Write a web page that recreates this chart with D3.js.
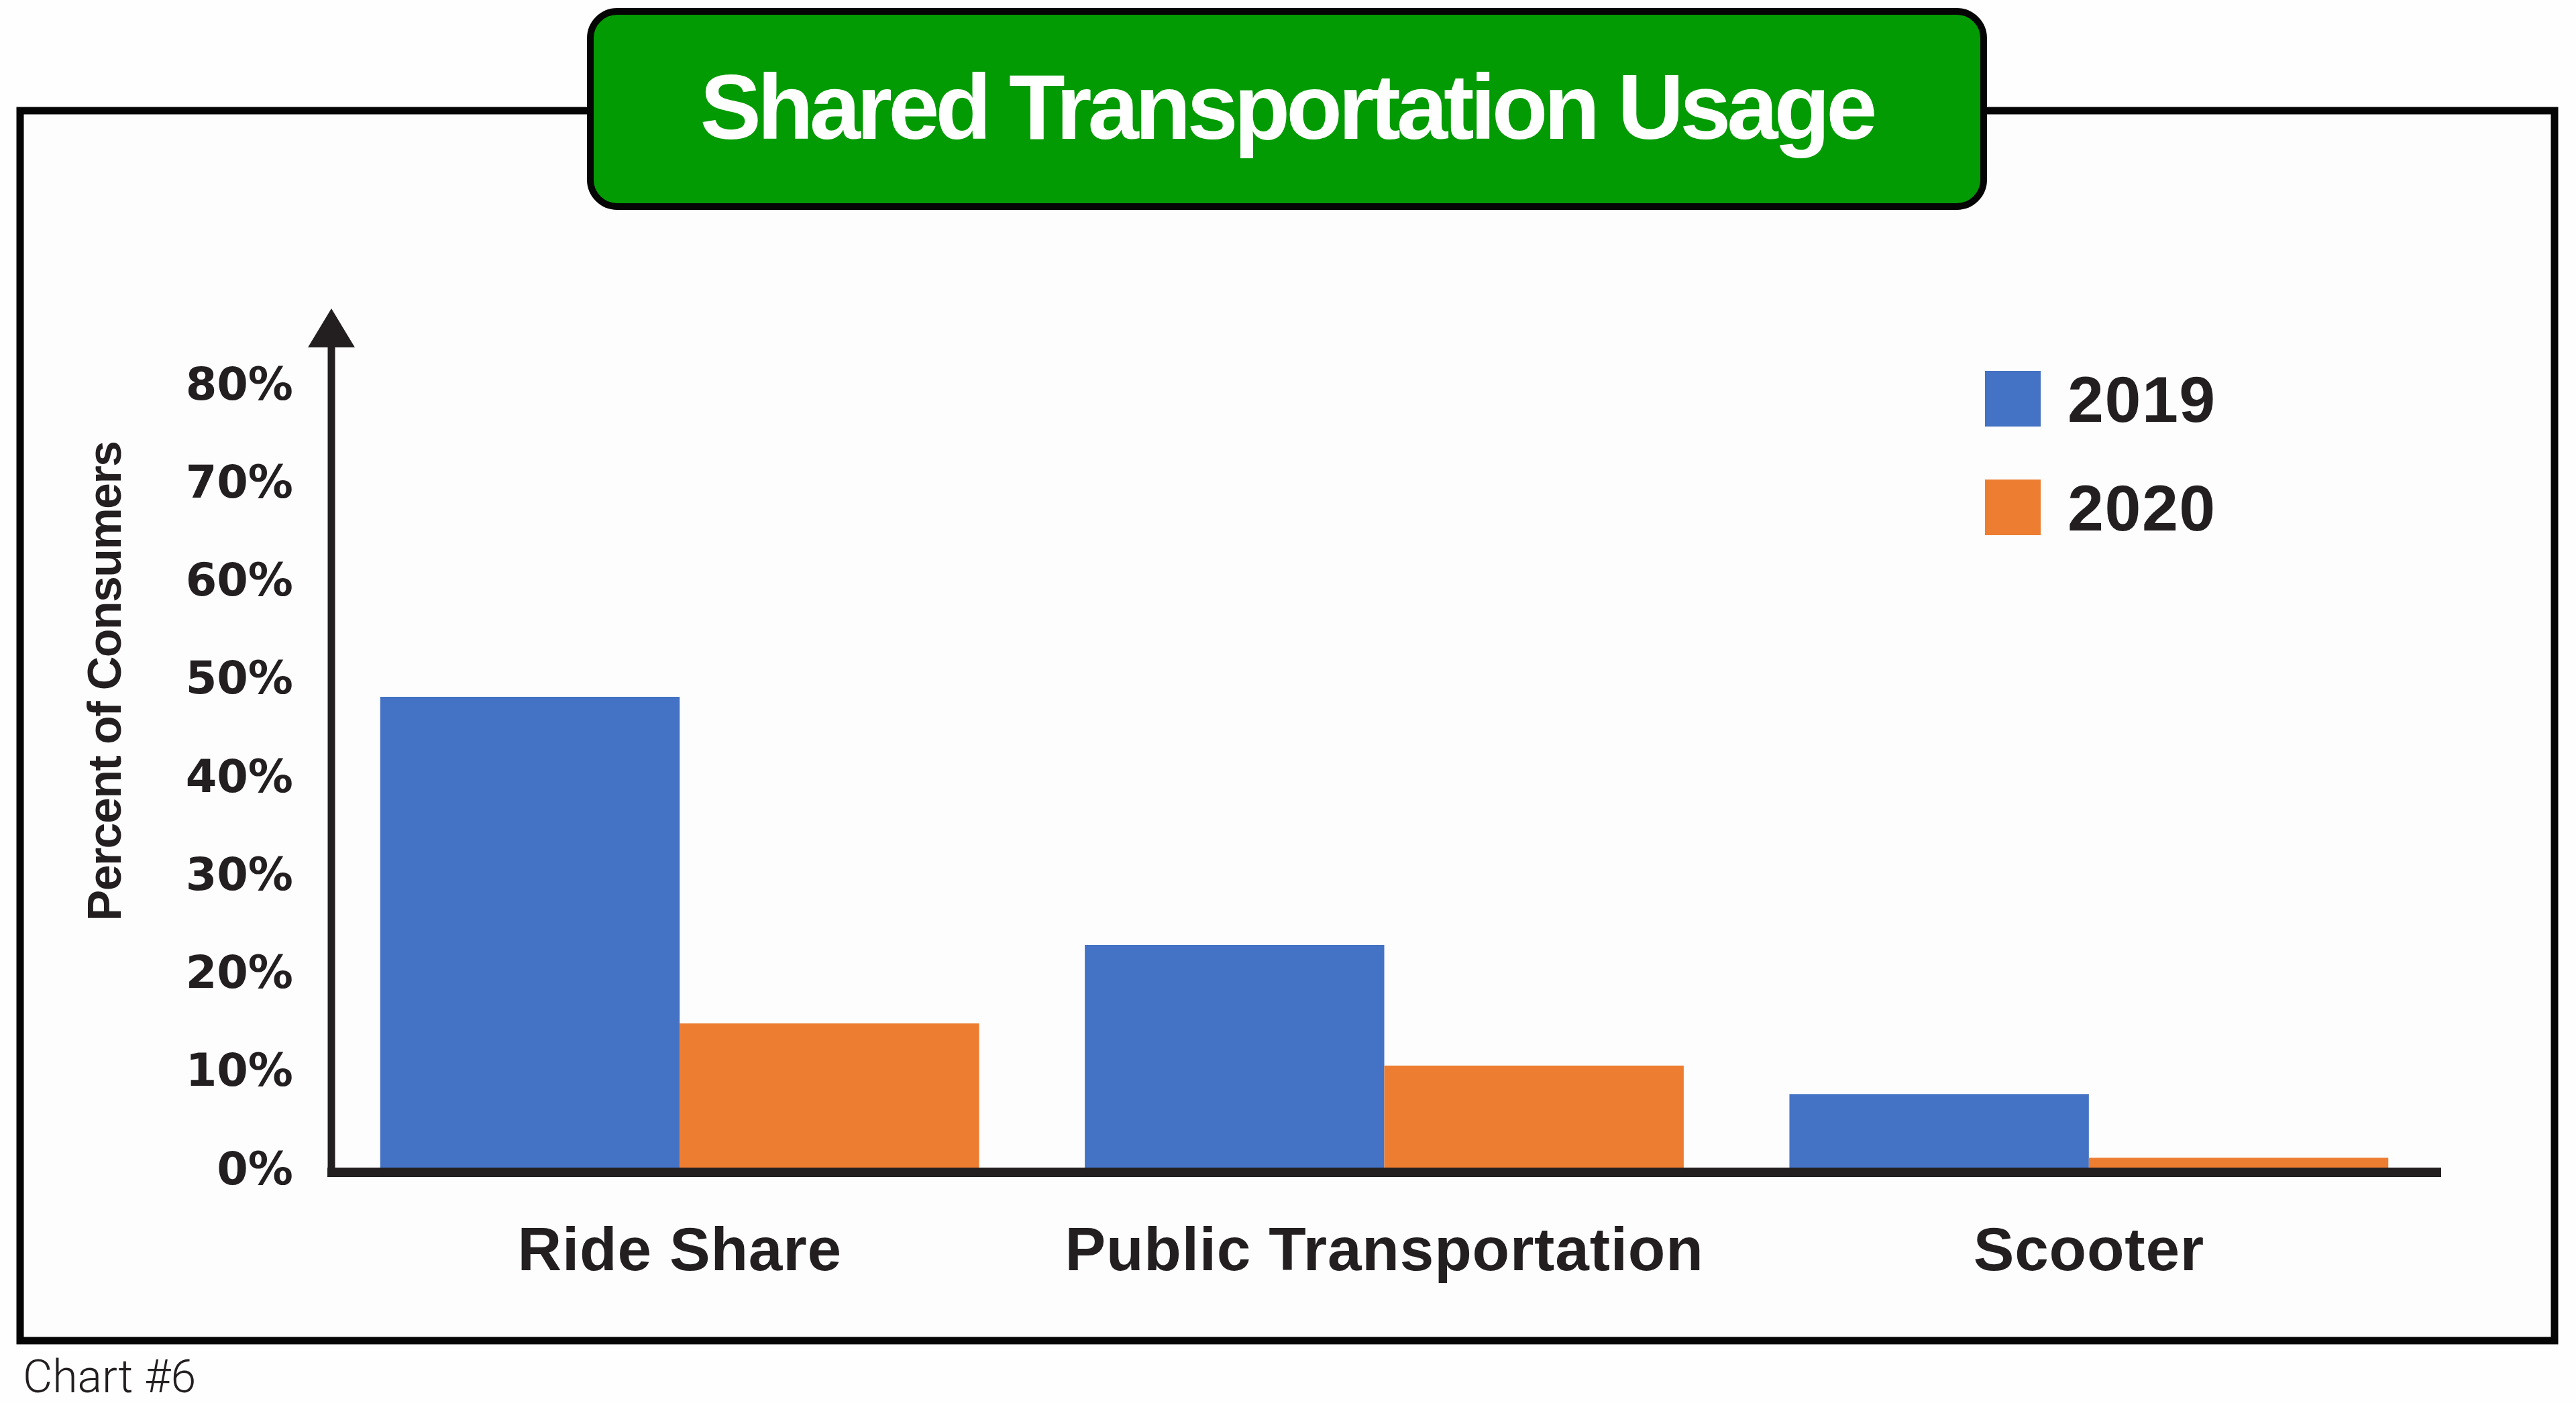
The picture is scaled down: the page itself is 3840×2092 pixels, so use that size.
<!DOCTYPE html>
<html>
<head>
<meta charset="utf-8">
<script src="https://cdn.jsdelivr.net/npm/d3@7"></script>
<style>
  html, body { margin: 0; padding: 0; background: #ffffff; }
  svg { display: block; }
</style>
</head>
<body>
<script>
// ---- data ----
const categories = ["Ride Share", "Public Transportation", "Scooter"];
const seriesNames = ["2019", "2020"];
const values2019 = [48.0, 22.7, 7.5];
const values2020 = [14.7, 10.4, 1.0];
const yTickValues = [0, 10, 20, 30, 40, 50, 60, 70, 80];
const titleText = "Shared Transportation Usage";
const yAxisTitle = "Percent of Consumers";
const footnote = "Chart #6";

const seriesValues = [values2019, values2020];
const seriesColors = ["#4472C4", "#ED7D31"];

const W = 3840, H = 2092;
const ink = "#231f20";

const svg = d3.select("body").append("svg")
  .attr("width", W).attr("height", H)
  .attr("viewBox", `0 0 ${W} ${H}`);

svg.append("rect").attr("width", W).attr("height", H).attr("fill", "#fefefe");

// outer frame
svg.append("rect")
  .attr("x", 30).attr("y", 165)
  .attr("width", 3808 - 30).attr("height", 1999 - 165)
  .attr("fill", "#fdfdfd").attr("stroke", "#050505").attr("stroke-width", 11);

// title box
svg.append("rect")
  .attr("x", 880).attr("y", 17)
  .attr("width", 2957 - 880).attr("height", 308 - 17)
  .attr("rx", 40).attr("ry", 40)
  .attr("fill", "#039b03").attr("stroke", "#050505").attr("stroke-width", 10);

svg.append("text")
  .attr("x", 1918).attr("y", 207)
  .attr("text-anchor", "middle")
  .attr("font-family", "'Liberation Sans', Arial, sans-serif")
  .attr("font-weight", "bold")
  .attr("font-size", 137)
  .attr("letter-spacing", -6)
  .attr("fill", "#ffffff")
  .text(titleText);

// scales
const x0 = d3.scaleBand().domain(categories).range([488, 3639])
  .paddingInner(0.15).paddingOuter(0.075);
const x1 = d3.scaleBand().domain(seriesNames).range([0, x0.bandwidth()]).padding(0);
const y = d3.scaleLinear().domain([0, 80]).range([1741, 571]);
const color = d3.scaleOrdinal().domain(seriesNames).range(seriesColors);

// bars
const groups = svg.append("g").selectAll("g")
  .data(categories)
  .join("g")
  .attr("transform", d => `translate(${x0(d)},0)`);

groups.selectAll("rect")
  .data((d, i) => seriesNames.map((s, k) => ({ s, v: seriesValues[k][i] })))
  .join("rect")
  .attr("x", d => x1(d.s))
  .attr("width", x1.bandwidth())
  .attr("y", d => y(d.v))
  .attr("height", d => y(0) - y(d.v))
  .attr("fill", d => color(d.s));

// axis lines
const axisX = 494;
svg.append("line")
  .attr("x1", axisX).attr("x2", axisX)
  .attr("y1", 515).attr("y2", 1755)
  .attr("stroke", ink).attr("stroke-width", 11);
svg.append("path")
  .attr("d", `M${axisX},460 L${axisX - 35},518 L${axisX + 35},518 Z`)
  .attr("fill", ink);
svg.append("line")
  .attr("x1", 488).attr("x2", 3639)
  .attr("y1", y(0) + 7).attr("y2", y(0) + 7)
  .attr("stroke", ink).attr("stroke-width", 14);

// y tick labels
const yAxis = svg.append("g")
  .attr("transform", "translate(437,0)")
  .call(d3.axisLeft(y).tickValues(yTickValues).tickSize(0).tickPadding(0)
    .tickFormat(d => d + "%"));
yAxis.select(".domain").remove();
yAxis.selectAll("text")
  .attr("font-family", "'DejaVu Sans', sans-serif")
  .attr("font-weight", "bold")
  .attr("font-size", 67)
  .attr("dy", "0.36em")
  .attr("fill", ink);

// category labels
const xAxis = svg.append("g")
  .attr("transform", `translate(0,${1894 - 65})`)
  .call(d3.axisBottom(x0).tickSize(0).tickPadding(0));
xAxis.select(".domain").remove();
xAxis.selectAll("text")
  .attr("font-family", "'Liberation Sans', Arial, sans-serif")
  .attr("font-weight", "bold")
  .attr("font-size", 91)
  .attr("letter-spacing", 0.8)
  .attr("dy", "0.71em")
  .attr("fill", ink);

// y axis title
svg.append("text")
  .attr("transform", "translate(180,1016) rotate(-90)")
  .attr("text-anchor", "middle")
  .attr("font-family", "'Liberation Sans', Arial, sans-serif")
  .attr("font-weight", "bold")
  .attr("font-size", 70)
  .attr("letter-spacing", -1.6)
  .attr("fill", ink)
  .text(yAxisTitle);

// legend
const legend = svg.append("g").selectAll("g")
  .data(seriesNames)
  .join("g")
  .attr("transform", (d, i) => `translate(2959,${553 + i * 162})`);
legend.append("rect")
  .attr("width", 83).attr("height", 83)
  .attr("fill", d => color(d));
legend.append("text")
  .attr("x", 123).attr("y", 76)
  .attr("font-family", "'Liberation Sans', Arial, sans-serif")
  .attr("font-weight", "bold")
  .attr("font-size", 97)
  .attr("letter-spacing", 1.5)
  .attr("fill", ink)
  .text(d => d);

// footnote
svg.append("text")
  .attr("x", 34).attr("y", 2076)
  .attr("font-family", "Roboto, 'Liberation Sans', sans-serif")
  .attr("font-weight", 300)
  .attr("font-size", 68)
  .attr("fill", ink)
  .text(footnote);
</script>
</body>
</html>
